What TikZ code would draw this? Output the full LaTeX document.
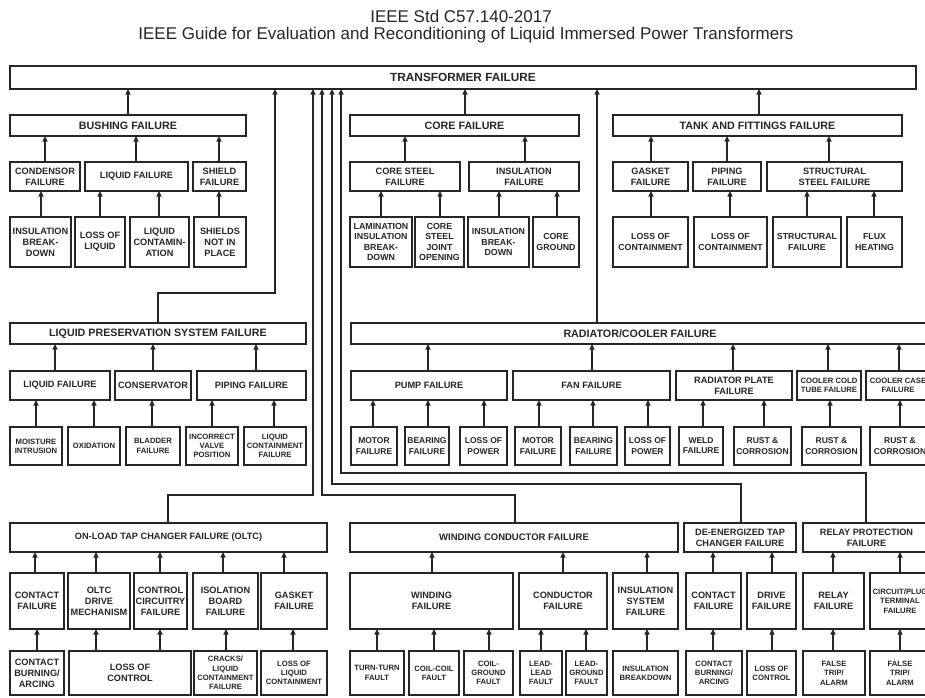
\documentclass[tikz,border=0pt]{standalone}
\usepackage{fontspec}
\setmainfont{Liberation Sans}
\usetikzlibrary{arrows.meta}
\definecolor{ink}{HTML}{262626}
\newcommand\mybox[7]{\node[bx,#6,minimum width={(#4-#2)*1pt},minimum height={(#5-#3)*1pt}] (#1) at ({(#2+#4)/2},{(#3+#5)/2}) {#7};}
\newcommand\uparr[3]{\coordinate (tmpx) at (#3,0); \draw[arr] (#1.north -| tmpx) -- (#2.south -| tmpx);}
\begin{document}
\begin{tikzpicture}[x=1pt,y=-1pt,
  bx/.style={draw=ink,line width=1.3pt,inner sep=0pt,outer sep=0pt,align=center,text=ink,fill=white},
  fT/.style={font=\bfseries\fontsize{11.8}{14}\selectfont},
  fH/.style={font=\bfseries\fontsize{10.7}{12.8}\selectfont},
  fW/.style={font=\bfseries\fontsize{9.5}{11.4}\selectfont},
  fM/.style={font=\bfseries\fontsize{9.2}{11}\selectfont},
  fC/.style={font=\bfseries\fontsize{8.8}{10.6}\selectfont},
  fS/.style={font=\bfseries\fontsize{8.5}{10.2}\selectfont},
  fX/.style={font=\bfseries\fontsize{7.7}{9.3}\selectfont},
  ttl/.style={font=\fontsize{17}{20}\selectfont,text=ink,inner sep=0pt},
  arr/.style={draw=ink,line width=1.3pt,-{Triangle[length=5.5pt,width=5pt]}}]
\useasboundingbox (0,0) rectangle (925,697);
\clip (0,0) rectangle (925,697);
% title
\node[ttl] (t1) at (461,16) {IEEE Std C57.140-2017};
\node[ttl] (t2) at (466,35) {IEEE Guide for Evaluation and Reconditioning of Liquid Immersed Power Transformers};
% top
\mybox{tf}{10}{66}{916}{89}{fT}{TRANSFORMER FAILURE}
% bushing
\mybox{bush}{10}{115}{246}{136}{fH}{BUSHING FAILURE}
\mybox{bcond}{10}{162}{80}{191}{fM}{CONDENSOR\\FAILURE}
\mybox{bliq}{85}{162}{188}{191}{fM}{LIQUID FAILURE}
\mybox{bshield}{193}{162}{246}{191}{fM}{SHIELD\\FAILURE}
\mybox{bla}{10}{217}{71}{267}{fM}{INSULATION\\BREAK-\\DOWN}
\mybox{blb}{75}{217}{125}{267}{fM}{LOSS OF\\LIQUID}
\mybox{blc}{130}{217}{189}{267}{fM}{LIQUID\\CONTAMIN-\\ATION}
\mybox{bld}{194}{217}{246}{267}{fM}{SHIELDS\\NOT IN\\PLACE}
\uparr{bush}{tf}{128}
\uparr{bcond}{bush}{45}
\uparr{bliq}{bush}{136}
\uparr{bshield}{bush}{219}
\uparr{bla}{bcond}{41}
\uparr{blb}{bliq}{100}
\uparr{blc}{bliq}{159}
\uparr{bld}{bshield}{219}
% core
\mybox{core}{350}{115}{579}{136}{fH}{CORE FAILURE}
\mybox{csteel}{350}{162}{460}{191}{fM}{CORE STEEL\\FAILURE}
\mybox{cins}{469}{162}{579}{191}{fM}{INSULATION\\FAILURE}
\mybox{cla}{350}{217}{412}{267}{fC}{LAMINATION\\INSULATION\\BREAK-\\DOWN}
\mybox{clb}{415}{217}{464}{267}{fC}{CORE\\STEEL\\JOINT\\OPENING}
\mybox{clc}{468}{217}{529}{267}{fC}{INSULATION\\BREAK-\\DOWN}
\mybox{cld}{533}{217}{579}{267}{fC}{CORE\\GROUND}
\uparr{core}{tf}{465}
\uparr{csteel}{core}{405}
\uparr{cins}{core}{525}
\uparr{cla}{csteel}{381}
\uparr{clb}{csteel}{440}
\uparr{clc}{cins}{499}
\uparr{cld}{cins}{557}
% tank
\mybox{tank}{613}{115}{902}{136}{fH}{TANK AND FITTINGS FAILURE}
\mybox{tgas}{613}{162}{688}{191}{fM}{GASKET\\FAILURE}
\mybox{tpip}{693}{162}{761}{191}{fM}{PIPING\\FAILURE}
\mybox{tstr}{767}{162}{902}{191}{fM}{STRUCTURAL\\STEEL FAILURE}
\mybox{tla}{613}{217}{688}{267}{fC}{LOSS OF\\CONTAINMENT}
\mybox{tlb}{694}{217}{767}{267}{fC}{LOSS OF\\CONTAINMENT}
\mybox{tlc}{773}{217}{841}{267}{fC}{STRUCTURAL\\FAILURE}
\mybox{tld}{847}{217}{902}{267}{fC}{FLUX\\HEATING}
\uparr{tank}{tf}{759}
\uparr{tgas}{tank}{651}
\uparr{tpip}{tank}{727}
\uparr{tstr}{tank}{829}
\uparr{tla}{tgas}{651}
\uparr{tlb}{tpip}{730}
\uparr{tlc}{tstr}{807}
\uparr{tld}{tstr}{874}
% liquid preservation
\mybox{lps}{10}{323}{306}{344}{fH}{LIQUID PRESERVATION SYSTEM FAILURE}
\mybox{lliq}{10}{371}{110}{400}{fM}{LIQUID FAILURE}
\mybox{lcons}{115}{371}{191}{400}{fM}{CONSERVATOR}
\mybox{lpip}{197}{371}{306}{400}{fM}{PIPING FAILURE}
\mybox{lla}{10}{427}{62}{465}{fX}{MOISTURE\\INTRUSION}
\mybox{llb}{68}{427}{120}{465}{fX}{OXIDATION}
\mybox{llc}{126}{427}{180}{465}{fX}{BLADDER\\FAILURE}
\mybox{lld}{186}{427}{238}{465}{fX}{INCORRECT\\VALVE\\POSITION}
\mybox{lle}{244}{427}{306}{465}{fX}{LIQUID\\CONTAINMENT\\FAILURE}
\uparr{lliq}{lps}{55}
\uparr{lcons}{lps}{153}
\uparr{lpip}{lps}{256}
\uparr{lla}{lliq}{36}
\uparr{llb}{lliq}{94}
\uparr{llc}{lcons}{152}
\uparr{lld}{lpip}{212}
\uparr{lle}{lpip}{274}
% radiator
\mybox{rad}{351}{323}{929}{344}{fH}{RADIATOR/COOLER FAILURE}
\mybox{rpump}{351}{371}{507}{400}{fM}{PUMP FAILURE}
\mybox{rfan}{513}{371}{670}{400}{fM}{FAN FAILURE}
\mybox{rplate}{676}{371}{792}{400}{fM}{RADIATOR PLATE\\FAILURE}
\mybox{rcold}{797}{371}{861}{400}{fX}{COOLER COLD\\TUBE FAILURE}
\mybox{rcase}{866}{371}{930}{400}{fX}{COOLER CASE\\FAILURE}
\mybox{rla}{351}{427}{397}{465}{fS}{MOTOR\\FAILURE}
\mybox{rlb}{405}{427}{449}{465}{fS}{BEARING\\FAILURE}
\mybox{rlc}{460}{427}{507}{465}{fS}{LOSS OF\\POWER}
\mybox{rld}{515}{427}{561}{465}{fS}{MOTOR\\FAILURE}
\mybox{rle}{570}{427}{617}{465}{fS}{BEARING\\FAILURE}
\mybox{rlf}{625}{427}{670}{465}{fS}{LOSS OF\\POWER}
\mybox{rlg}{679}{427}{723}{465}{fS}{WELD\\FAILURE}
\mybox{rlh}{734}{427}{791}{465}{fS}{RUST \&\\CORROSION}
\mybox{rli}{802}{427}{861}{465}{fS}{RUST \&\\CORROSION}
\mybox{rlj}{870}{427}{930}{465}{fS}{RUST \&\\CORROSION}
\uparr{rad}{tf}{597}
\uparr{rpump}{rad}{428}
\uparr{rfan}{rad}{592}
\uparr{rplate}{rad}{733}
\uparr{rcold}{rad}{828}
\uparr{rcase}{rad}{899}
\uparr{rla}{rpump}{373}
\uparr{rlb}{rpump}{428}
\uparr{rlc}{rpump}{484}
\uparr{rld}{rfan}{539}
\uparr{rle}{rfan}{593}
\uparr{rlf}{rfan}{648}
\uparr{rlg}{rplate}{703}
\uparr{rlh}{rplate}{764}
\uparr{rli}{rcold}{830}
\uparr{rlj}{rcase}{900}
% OLTC
\mybox{oltc}{10}{523}{327}{552}{fM}{ON-LOAD TAP CHANGER FAILURE (OLTC)}
\mybox{ocon}{10}{573}{64}{629}{fM}{CONTACT\\FAILURE}
\mybox{odrv}{68}{573}{130}{629}{fM}{OLTC\\DRIVE\\MECHANISM}
\mybox{octl}{134}{573}{187}{629}{fM}{CONTROL\\CIRCUITRY\\FAILURE}
\mybox{oiso}{193}{573}{258}{629}{fM}{ISOLATION\\BOARD\\FAILURE}
\mybox{ogas}{261}{573}{327}{629}{fM}{GASKET\\FAILURE}
\mybox{ola}{10}{651}{64}{695}{fM}{CONTACT\\BURNING/\\ARCING}
\mybox{olb}{69}{651}{191}{695}{fM}{LOSS OF\\CONTROL}
\mybox{olc}{194}{651}{257}{695}{fX}{CRACKS/\\LIQUID\\CONTAINMENT\\FAILURE}
\mybox{old}{261}{651}{327}{695}{fX}{LOSS OF\\LIQUID\\CONTAINMENT}
\uparr{ocon}{oltc}{35}
\uparr{odrv}{oltc}{96}
\uparr{octl}{oltc}{160}
\uparr{oiso}{oltc}{223}
\uparr{ogas}{oltc}{284}
\uparr{ola}{ocon}{37}
\uparr{olb}{odrv}{96}
\uparr{olb}{octl}{160}
\uparr{olc}{oiso}{226}
\uparr{old}{ogas}{293}
% winding conductor
\mybox{wc}{350}{523}{678}{552}{fW}{WINDING CONDUCTOR FAILURE}
\mybox{wwf}{350}{573}{513}{629}{fM}{WINDING\\FAILURE}
\mybox{wcf}{519}{573}{607}{629}{fM}{CONDUCTOR\\FAILURE}
\mybox{wis}{613}{573}{678}{629}{fM}{INSULATION\\SYSTEM\\FAILURE}
\mybox{wla}{350}{651}{404}{695}{fX}{TURN-TURN\\FAULT}
\mybox{wlb}{409}{651}{459}{695}{fX}{COIL-COIL\\FAULT}
\mybox{wlc}{464}{651}{513}{695}{fX}{COIL-\\GROUND\\FAULT}
\mybox{wld}{520}{651}{562}{695}{fX}{LEAD-\\LEAD\\FAULT}
\mybox{wle}{566}{651}{607}{695}{fX}{LEAD-\\GROUND\\FAULT}
\mybox{wlf}{613}{651}{678}{695}{fX}{INSULATION\\BREAKDOWN}
\uparr{wwf}{wc}{432}
\uparr{wcf}{wc}{563}
\uparr{wis}{wc}{647}
\uparr{wla}{wwf}{377}
\uparr{wlb}{wwf}{434}
\uparr{wlc}{wwf}{489}
\uparr{wld}{wcf}{541}
\uparr{wle}{wcf}{586}
\uparr{wlf}{wis}{647}
% de-energized tap changer
\mybox{de}{684}{523}{796}{552}{fM}{DE-ENERGIZED TAP\\CHANGER FAILURE}
\mybox{dcon}{686}{573}{741}{629}{fM}{CONTACT\\FAILURE}
\mybox{ddrv}{747}{573}{796}{629}{fM}{DRIVE\\FAILURE}
\mybox{dla}{686}{651}{742}{695}{fX}{CONTACT\\BURNING/\\ARCING}
\mybox{dlb}{747}{651}{796}{695}{fX}{LOSS OF\\CONTROL}
\uparr{dcon}{de}{713}
\uparr{ddrv}{de}{772}
\uparr{dla}{dcon}{713}
\uparr{dlb}{ddrv}{772}
% relay protection
\mybox{rp}{803}{523}{930}{552}{fM}{RELAY PROTECTION\\FAILURE}
\mybox{rrf}{803}{573}{864}{629}{fM}{RELAY\\FAILURE}
\mybox{rcp}{870}{573}{930}{629}{fX}{CIRCUIT/PLUG\\TERMINAL\\FAILURE}
\mybox{rqa}{803}{651}{865}{695}{fX}{FALSE\\TRIP/\\ALARM}
\mybox{rqb}{870}{651}{930}{695}{fX}{FALSE\\TRIP/\\ALARM}
\uparr{rrf}{rp}{833}
\uparr{rcp}{rp}{900}
\uparr{rqa}{rrf}{833}
\uparr{rqb}{rcp}{900}
% routed connectors to the top box
\coordinate (lpsA) at (158,293); \coordinate (lpsB) at (275,293);
\draw[arr] (lps.north -| lpsA) -- (lpsA) -- (lpsB) -- (tf.south -| lpsB);
\coordinate (olA) at (168,495); \coordinate (olB) at (313,495);
\draw[arr] (oltc.north -| olA) -- (olA) -- (olB) -- (tf.south -| olB);
\coordinate (wcA) at (515,495); \coordinate (wcB) at (322,495);
\draw[arr] (wc.north -| wcA) -- (wcA) -- (wcB) -- (tf.south -| wcB);
\coordinate (deA) at (741,484); \coordinate (deB) at (332,484);
\draw[arr] (de.north -| deA) -- (deA) -- (deB) -- (tf.south -| deB);
\coordinate (rpA) at (866,473); \coordinate (rpB) at (341,473);
\draw[arr] (rp.north -| rpA) -- (rpA) -- (rpB) -- (tf.south -| rpB);
\end{tikzpicture}
\end{document}
